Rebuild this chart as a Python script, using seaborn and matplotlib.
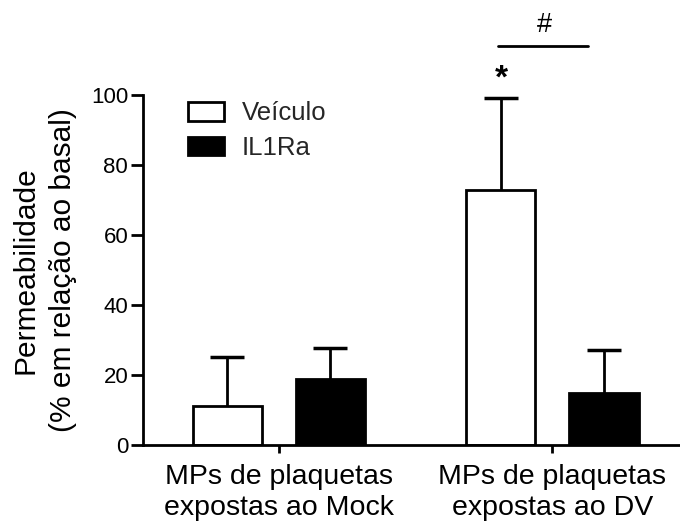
import matplotlib
matplotlib.use('Agg')
import matplotlib.pyplot as plt
import seaborn as sns
import pandas as pd
from matplotlib.patches import Patch

grupos = ['MPs de plaquetas\nexpostas ao Mock', 'MPs de plaquetas\nexpostas ao DV']
tratamentos = ['Veículo', 'IL1Ra']
veiculo_media = [11.1, 72.9]
veiculo_erro = [14.0, 26.2]
il1ra_media = [18.9, 14.8]
il1ra_erro = [8.8, 12.3]
y_ticks = [0, 20, 40, 60, 80, 100]

sns.set_theme(style='ticks')
plt.rcParams['font.family'] = ['Liberation Sans', 'DejaVu Sans']

df = pd.DataFrame({
    'grupo': grupos * 2,
    'tratamento': [tratamentos[0]] * 2 + [tratamentos[1]] * 2,
    'valor': veiculo_media + il1ra_media,
    'erro': veiculo_erro + il1ra_erro,
})

fig = plt.figure(figsize=(6.8, 5.25), dpi=100)
ax = fig.add_axes([0.210, 0.1524, 0.790, 0.667])
sns.barplot(data=df, x='grupo', y='valor', hue='tratamento', hue_order=tratamentos,
            order=grupos, palette={'Veículo': 'white', 'IL1Ra': 'black'},
            edgecolor='black', linewidth=2, width=0.753, gap=0.33, errorbar=None,
            legend=False, saturation=1, ax=ax)

bars = [p for p in ax.patches if p.get_width() > 0]
xs = [p.get_x() + p.get_width() / 2 for p in bars]
hs = [p.get_height() for p in bars]
errs = list(df['erro'])
eb = ax.errorbar(xs, hs, yerr=[[0] * len(errs), errs], fmt='none', ecolor='black',
                 elinewidth=2, capsize=12.5, capthick=2.5, clip_on=False, zorder=1)
# keep only the upper caps
caps = eb.lines[1]
if len(caps) >= 2:
    caps[0].set_visible(False)

ax.set_xlim(-0.497, 1.466)
ax.set_ylim(0, 100)
ax.set_yticks(y_ticks)
ax.set_xlabel('')
ax.set_ylabel('Permeabilidade\n(% em relação ao basal)', fontsize=21.5, linespacing=1.45,
              labelpad=10, color='black')
sns.despine(ax=ax)
for s in ['left', 'bottom']:
    ax.spines[s].set_linewidth(2)
    ax.spines[s].set_color('black')
ax.tick_params(axis='both', width=2, color='black', direction='out', labelcolor='black')
ax.tick_params(axis='y', labelsize=16, pad=2, length=8.5)
ax.tick_params(axis='x', labelsize=20.5, pad=8, length=6)
for lbl in ax.get_xticklabels():
    lbl.set_linespacing(1.25)

# significance marks
ax.text(xs[1], 104.5, '*', fontsize=24, fontweight='bold', ha='center', va='center',
        color='black', clip_on=False)
ax.plot([0.80, 1.13], [114, 114], color='black', lw=2, clip_on=False)
ax.text(0.97, 120, '#', fontsize=19.5, ha='center', va='center', color='black', clip_on=False)

handles = [Patch(facecolor='white', edgecolor='black', linewidth=2, label=tratamentos[0]),
           Patch(facecolor='black', edgecolor='black', linewidth=2, label=tratamentos[1])]
ax.legend(handles=handles, loc='upper left', bbox_to_anchor=(0.0838, 0.981), frameon=False,
          fontsize=18.5, handlelength=1.4, handleheight=0.72, handletextpad=0.7,
          labelspacing=0.42, borderaxespad=0, borderpad=0)

fig.savefig('out.png', dpi=100)
